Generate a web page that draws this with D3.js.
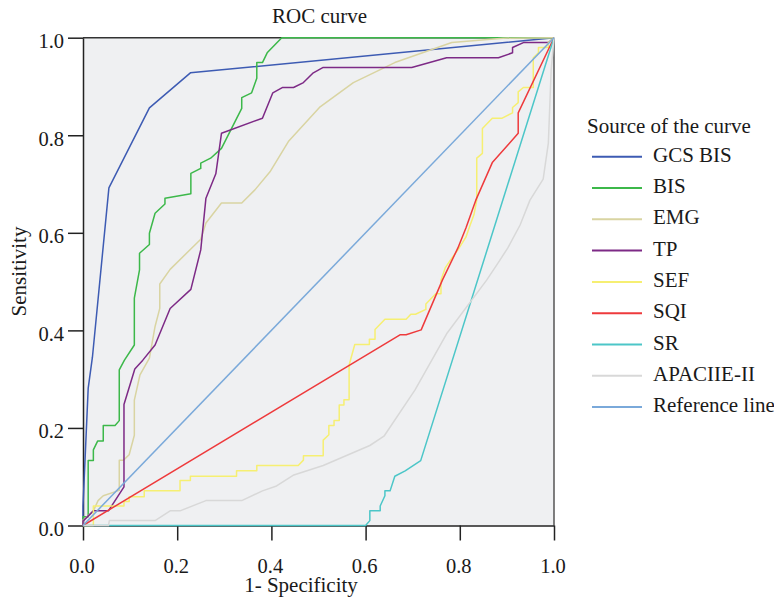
<!doctype html>
<html>
<head>
<meta charset="utf-8">
<style>
    body { margin: 0; background: #fff; }
    text { font-family: "Liberation Serif", "DejaVu Serif", serif; fill: #1a1a1a; }
    .curve { fill: none; stroke-width: 1.5; stroke-linejoin: round; }
</style>
<script src="https://d3js.org/d3.v7.min.js"></script>
</head>
<body>
<svg width="774" height="604"></svg>
<script>
// ROC points, [1 - specificity, sensitivity]
var gcsBis = [[0,0],[0,0.04],[0.011,0.281],[0.020,0.345],[0.055,0.692],[0.141,0.856],[0.228,0.928],[1,1]];
var bis = [[0,0],[0,0.018],[0.011,0.018],[0.011,0.133],[0.022,0.133],[0.022,0.155],[0.031,0.173],[0.043,0.173],
    [0.043,0.205],[0.068,0.205],[0.077,0.215],[0.077,0.319],[0.088,0.339],[0.109,0.370],[0.109,0.466],[0.120,0.524],
    [0.120,0.558],[0.141,0.576],[0.141,0.599],[0.153,0.640],[0.174,0.659],[0.174,0.671],[0.229,0.680],[0.229,0.722],
    [0.250,0.732],[0.250,0.743],[0.271,0.753],[0.294,0.773],[0.337,0.855],[0.337,0.877],[0.358,0.887],[0.369,0.917],
    [0.369,0.949],[0.381,0.949],[0.391,0.969],[0.422,1],[1,1]];
var emg = [[0,0],[0,0.011],[0.011,0.020],[0.022,0.030],[0.032,0.051],[0.043,0.061],[0.077,0.072],[0.077,0.134],
    [0.086,0.134],[0.098,0.145],[0.109,0.185],[0.109,0.257],[0.121,0.309],[0.141,0.343],[0.153,0.408],[0.163,0.445],
    [0.163,0.495],[0.185,0.525],[0.250,0.587],[0.261,0.620],[0.294,0.661],[0.337,0.661],[0.365,0.688],[0.397,0.725],
    [0.436,0.787],[0.502,0.857],[0.574,0.908],[0.662,0.949],[0.783,0.990],[0.892,0.999],[1,1]];
var tp = [[0,0],[0,0.009],[0.022,0.030],[0.054,0.030],[0.087,0.079],[0.087,0.248],[0.110,0.321],[0.127,0.339],
    [0.153,0.370],[0.185,0.445],[0.229,0.484],[0.250,0.565],[0.261,0.671],[0.282,0.721],[0.294,0.804],[0.381,0.835],
    [0.403,0.887],[0.424,0.898],[0.447,0.898],[0.468,0.908],[0.489,0.928],[0.510,0.939],[0.698,0.939],[0.772,0.959],
    [0.882,0.959],[0.912,0.969],[0.912,0.980],[0.935,0.990],[0.988,0.990],[1,1]];
var sef = [[0,0],[0.022,0],[0.022,0.040],[0.087,0.040],[0.087,0.049],[0.098,0.049],[0.098,0.059],[0.130,0.059],
    [0.130,0.071],[0.206,0.071],[0.206,0.092],[0.228,0.092],[0.228,0.101],[0.326,0.101],[0.326,0.112],[0.369,0.112],
    [0.369,0.123],[0.457,0.123],[0.468,0.134],[0.468,0.143],[0.510,0.143],[0.510,0.175],[0.522,0.186],[0.522,0.205],
    [0.533,0.205],[0.533,0.215],[0.544,0.215],[0.544,0.247],[0.554,0.247],[0.554,0.258],[0.565,0.258],[0.565,0.329],
    [0.577,0.371],[0.608,0.371],[0.608,0.382],[0.620,0.382],[0.620,0.402],[0.641,0.423],[0.686,0.423],[0.696,0.433],
    [0.706,0.433],[0.728,0.443],[0.728,0.454],[0.749,0.475],[0.760,0.475],[0.760,0.503],[0.769,0.528],[0.783,0.548],
    [0.796,0.565],[0.813,0.591],[0.822,0.616],[0.830,0.637],[0.836,0.667],[0.836,0.753],[0.848,0.763],[0.848,0.814],
    [0.869,0.835],[0.890,0.835],[0.912,0.846],[0.912,0.857],[0.924,0.867],[0.924,0.889],[0.935,0.898],[0.956,0.898],
    [0.956,0.959],[0.967,0.969],[0.967,0.980],[0.988,0.980],[0.988,0.990],[1,1]];
var sqi = [[0,0],[0.673,0.391],[0.686,0.391],[0.718,0.401],[0.763,0.503],[0.796,0.569],[0.813,0.610],[0.834,0.667],
    [0.869,0.744],[0.924,0.804],[0.924,0.846],[1,1]];
var sr = [[0,0],[0.600,0],[0.609,0.010],[0.609,0.030],[0.631,0.030],[0.631,0.040],[0.641,0.061],[0.641,0.071],
    [0.652,0.071],[0.662,0.101],[0.684,0.112],[0.717,0.133],[1,1]];
var apache = [[0,0],[0.054,0],[0.056,0.010],[0.153,0.010],[0.185,0.030],[0.206,0.030],[0.261,0.051],[0.337,0.051],
    [0.381,0.071],[0.411,0.081],[0.446,0.103],[0.510,0.123],[0.609,0.164],[0.639,0.183],[0.705,0.278],[0.772,0.393],
    [0.857,0.503],[0.881,0.538],[0.902,0.569],[0.928,0.616],[0.949,0.667],[0.977,0.710],[0.988,0.784],[0.994,0.934],[1,1]];
var refLine = [[0,0],[1,1]];

var seriesNames = ["GCS BIS", "BIS", "EMG", "TP", "SEF", "SQI", "SR", "APACIIE-II", "Reference line"];
var seriesData = [gcsBis, bis, emg, tp, sef, sqi, sr, apache, refLine];
var seriesColors = ["#3d5bb3", "#3cb84a", "#d9d4a2", "#7d2a86", "#f6ef72", "#ee3a3c", "#4cc6c8", "#d8d8d8", "#7aa9da"];
var tickValues = [0, 0.2, 0.4, 0.6, 0.8, 1.0];

var svg = d3.select("svg");
var plotL = 83, plotR = 554, plotT = 37.7, plotB = 525.5;

var x = d3.scaleLinear().domain([0, 1]).range([plotL, plotR]);
var y = d3.scaleLinear().domain([0, 1]).range([plotB, plotT]);

// plot background and frame
svg.append("rect")
   .attr("x", plotL).attr("y", plotT)
   .attr("width", plotR - plotL).attr("height", plotB - plotT)
   .attr("fill", "#eff0f2");
svg.append("line")
   .attr("x1", plotL).attr("x2", plotR).attr("y1", plotT).attr("y2", plotT)
   .attr("stroke", "#333").attr("stroke-width", 1.5);
svg.append("line")
   .attr("x1", plotR).attr("x2", plotR).attr("y1", plotT).attr("y2", plotB)
   .attr("stroke", "#555").attr("stroke-width", 1.5);

var xAxis = svg.append("g")
   .attr("transform", "translate(0," + plotB + ")")
   .call(d3.axisBottom(x).tickValues(tickValues).tickFormat(d3.format(".1f"))
         .tickSize(15).tickSizeOuter(0).tickPadding(18));
var yAxis = svg.append("g")
   .attr("transform", "translate(" + plotL + ",0)")
   .call(d3.axisLeft(y).tickValues(tickValues).tickFormat(d3.format(".1f"))
         .tickSize(15).tickSizeOuter(0).tickPadding(4));

[xAxis, yAxis].forEach(function(a) {
    a.selectAll("path, line").attr("stroke", "#222").attr("stroke-width", 1.5);
    a.selectAll("text").attr("font-size", "20.5px").attr("fill", "#1a1a1a")
     .attr("font-family", "'Liberation Serif', serif");
});
yAxis.selectAll("text").attr("dy", "0.48em");
xAxis.selectAll("text").attr("x", -1.5);

// curves
var line = d3.line()
    .x(function(d) { return x(d[0]); })
    .y(function(d) { return y(d[1]); });

svg.selectAll(".curve")
   .data(seriesData)
   .enter().append("path")
   .attr("class", "curve")
   .attr("d", line)
   .attr("stroke", function(d, i) { return seriesColors[i]; })
   .attr("stroke-width", function(d, i) { return i == 8 ? 1.2 : 1.5; });

// titles
svg.append("text")
   .attr("x", 319.5).attr("y", 23)
   .attr("text-anchor", "middle").attr("font-size", "21px")
   .text("ROC curve");
svg.append("text")
   .attr("x", 301).attr("y", 592)
   .attr("text-anchor", "middle").attr("font-size", "21px")
   .text("1- Specificity");
svg.append("text")
   .attr("transform", "translate(25.5,271.5) rotate(-90)")
   .attr("text-anchor", "middle").attr("font-size", "21px")
   .text("Sensitivity");

// legend
var legend = svg.append("g").attr("transform", "translate(587,0)");
legend.append("text")
   .attr("x", 0).attr("y", 133.3).attr("font-size", "21px")
   .text("Source of the curve");
var items = legend.selectAll(".item")
   .data(seriesNames)
   .enter().append("g")
   .attr("class", "item")
   .attr("transform", function(d, i) { return "translate(0," + (156.7 + i * 31.3) + ")"; });
items.append("line")
   .attr("x1", 5).attr("x2", 55).attr("y1", 0).attr("y2", 0)
   .attr("stroke", function(d, i) { return seriesColors[i]; })
   .attr("stroke-width", 2);
items.append("text")
   .attr("x", 66).attr("y", 5).attr("font-size", "21px")
   .text(function(d) { return d; });
</script>
</body>
</html>
